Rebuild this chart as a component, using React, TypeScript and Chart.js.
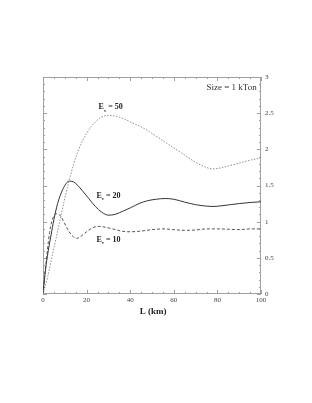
import React, { useEffect, useRef } from "react";
import { Chart, registerables } from "chart.js";
Chart.register(...registerables);

// E_nu = 50 (dotted)
const L50 = [0, 2, 4, 6, 8, 10, 12, 14, 16, 18, 20, 22, 24, 26, 28, 30, 32, 35, 40, 45, 50, 55, 60, 65, 70, 75, 77.5, 80, 85, 90, 95, 100];
const V50 = [0, 0.22, 0.5, 0.77, 1.05, 1.32, 1.57, 1.79, 1.97, 2.11, 2.22, 2.31, 2.38, 2.43, 2.46, 2.47, 2.465, 2.445, 2.38, 2.31, 2.22, 2.12, 2.02, 1.92, 1.82, 1.75, 1.73, 1.735, 1.77, 1.81, 1.85, 1.88];
// E_nu = 20 (solid)
const L20 = [0, 1, 2, 3.6, 5, 6.7, 8, 10, 12, 14, 16, 18, 21, 24, 27, 30, 33, 37, 40, 44, 48, 52, 56, 60, 65, 70, 75, 78, 82, 86, 90, 95, 100];
const V20 = [0, 0.3, 0.52, 0.8, 1.03, 1.25, 1.37, 1.5, 1.56, 1.55, 1.5, 1.43, 1.32, 1.21, 1.13, 1.09, 1.1, 1.15, 1.19, 1.25, 1.29, 1.31, 1.32, 1.31, 1.27, 1.235, 1.215, 1.21, 1.22, 1.235, 1.25, 1.265, 1.275];
// E_nu = 10 (dashed)
const L10 = [0, 1, 2, 3, 4, 5, 6.5, 8, 10, 12, 14, 15.5, 17, 20, 23, 26, 29, 32, 36, 40, 45, 50, 55, 60, 65, 70, 75, 80, 85, 90, 95, 100];
const V10 = [0, 0.3, 0.6, 0.85, 1.0, 1.08, 1.11, 1.08, 0.97, 0.86, 0.79, 0.77, 0.79, 0.86, 0.92, 0.935, 0.92, 0.9, 0.87, 0.86, 0.87, 0.89, 0.9, 0.89, 0.88, 0.885, 0.9, 0.9, 0.895, 0.89, 0.9, 0.9];

const X_TICKS = [0, 20, 40, 60, 80, 100];
const Y_TICKS = [0, 0.5, 1, 1.5, 2, 2.5, 3];

const CURVE_LABELS = [
  { base: "E", sub: "ν", rest: " = 50", x: 25.5, y: 2.58 },
  { base: "E", sub: "ν", rest: " = 20", x: 24.5, y: 1.36 },
  { base: "E", sub: "ν", rest: " = 10", x: 24.5, y: 0.75 },
];
const SIZE_LABEL = "Size = 1 kTon";
const X_TITLE = "L (km)";

const SERIF = "'Liberation Serif', 'DejaVu Serif', serif";

const toPts = (xs: number[], ys: number[]) => xs.map((x, i) => ({ x, y: ys[i] }));

const decorPlugin = {
  id: "decor",
  beforeDatasetsDraw(chart: any) {
    const { ctx, chartArea: a, scales } = chart;
    const x = scales.x, y = scales.y;
    ctx.save();
    ctx.strokeStyle = "#a0a0a0";
    ctx.lineWidth = 1;
    ctx.strokeRect(a.left + 0.5, a.top + 0.5, a.right - a.left - 1, a.bottom - a.top - 1);
    ctx.beginPath();
    for (let i = 0; i <= 30; i++) {
      const v = i / 10;
      const py = Math.round(y.getPixelForValue(v)) + 0.5;
      const len = i % 5 === 0 ? 4 : 2;
      ctx.moveTo(a.left, py); ctx.lineTo(a.left + len, py);
      ctx.moveTo(a.right, py); ctx.lineTo(a.right - len, py);
    }
    for (let i = 0; i <= 20; i++) {
      const v = i * 5;
      const px = Math.round(x.getPixelForValue(v)) + 0.5;
      const len = i % 4 === 0 ? 4 : 2;
      ctx.moveTo(px, a.bottom); ctx.lineTo(px, a.bottom - len);
      ctx.moveTo(px, a.top); ctx.lineTo(px, a.top + len);
    }
    ctx.stroke();
    ctx.restore();
  },
  afterDraw(chart: any) {
    const { ctx, chartArea: a, scales } = chart;
    const x = scales.x, y = scales.y;
    ctx.save();
    ctx.fillStyle = "#222";
    ctx.textBaseline = "middle";
    for (const l of CURVE_LABELS) {
      let px = x.getPixelForValue(l.x);
      const py = y.getPixelForValue(l.y);
      ctx.font = `bold 8px ${SERIF}`;
      ctx.textAlign = "left";
      ctx.fillText(l.base, px, py);
      px += ctx.measureText(l.base).width;
      ctx.font = `bold 5px ${SERIF}`;
      ctx.fillText(l.sub, px, py + 3);
      px += ctx.measureText(l.sub).width;
      ctx.font = `bold 8px ${SERIF}`;
      ctx.fillText(l.rest, px, py);
    }
    ctx.font = `9px ${SERIF}`;
    ctx.textAlign = "right";
    ctx.fillStyle = "#333";
    ctx.fillText(SIZE_LABEL, x.getPixelForValue(98), y.getPixelForValue(2.85));
    ctx.font = `bold 9px ${SERIF}`;
    ctx.textAlign = "center";
    ctx.fillStyle = "#222";
    ctx.fillText(X_TITLE, (a.left + a.right) / 2 + 1, 312);
    ctx.restore();
  },
};

export default function App() {
  const ref = useRef<HTMLCanvasElement | null>(null);
  useEffect(() => {
    if (!ref.current) return;
    const chart = new Chart(ref.current, {
      type: "line",
      data: {
        datasets: [
          {
            data: toPts(L50, V50),
            borderColor: "#8f8f8f",
            borderWidth: 1,
            borderDash: [1.5, 1.5],
            pointRadius: 0,
            cubicInterpolationMode: "monotone",
          },
          {
            data: toPts(L20, V20),
            borderColor: "#333",
            borderWidth: 1,
            pointRadius: 0,
            cubicInterpolationMode: "monotone",
          },
          {
            data: toPts(L10, V10),
            borderColor: "#444",
            borderWidth: 0.9,
            borderDash: [3, 2],
            pointRadius: 0,
            cubicInterpolationMode: "monotone",
          },
        ],
      },
      options: {
        animation: false,
        responsive: true,
        maintainAspectRatio: false,
        layout: { padding: { left: 43, top: 77, right: 0, bottom: 0 } },
        plugins: { legend: { display: false }, tooltip: { enabled: false } },
        scales: {
          x: {
            type: "linear",
            min: 0,
            max: 100,
            afterBuildTicks: (s: any) => { s.ticks = X_TICKS.map((v) => ({ value: v })); },
            afterFit: (s: any) => { s.height = 109; },
            grid: { display: false, drawTicks: false },
            border: { display: false },
            ticks: { padding: 2, color: "#444", font: { family: SERIF, size: 7 }, maxRotation: 0, callback: (v: any) => String(v) },
          },
          y: {
            type: "linear",
            position: "right",
            min: 0,
            max: 3,
            afterBuildTicks: (s: any) => { s.ticks = Y_TICKS.map((v) => ({ value: v })); },
            afterFit: (s: any) => { s.width = 51; },
            grid: { display: false, drawTicks: false },
            border: { display: false },
            ticks: { padding: 4, color: "#444", font: { family: SERIF, size: 7 }, callback: (v: any) => String(v) },
          },
        },
      },
      plugins: [decorPlugin],
    } as any);
    return () => chart.destroy();
  }, []);
  return (
    <div style={{ position: "absolute", left: 0, top: 0, width: 312, height: 403, background: "#fff" }}>
      <canvas ref={ref} />
    </div>
  );
}
